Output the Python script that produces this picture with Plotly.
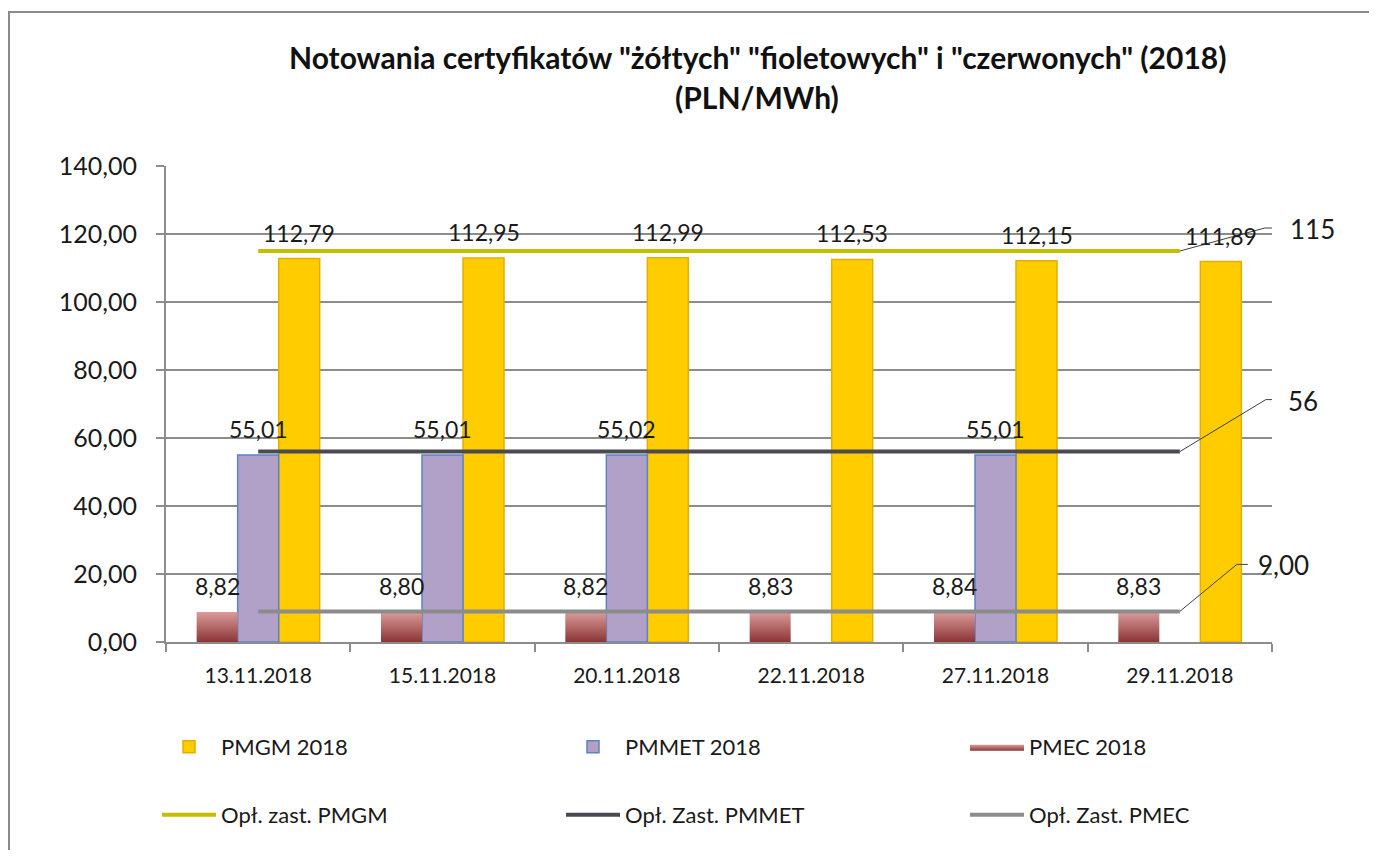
import plotly.graph_objects as go

dates = ["13.11.2018", "15.11.2018", "20.11.2018", "22.11.2018", "27.11.2018", "29.11.2018"]
pmgm = [112.79, 112.95, 112.99, 112.53, 112.15, 111.89]
pmmet = [55.01, 55.01, 55.02, None, 55.01, None]
pmec = [8.82, 8.80, 8.82, 8.83, 8.84, 8.83]
opl_pmgm = [115, 115, 115, 115, 115, 115]
opl_pmmet = [56, 56, 56, 56, 56, 56]
opl_pmec = [9.0, 9.0, 9.0, 9.0, 9.0, 9.0]
opl_labels = ["115", "56", "9,00"]

FONT = "Lato"
GRID = "#8c8c8c"
xs = list(range(len(dates)))
w = 0.2225  # bar width in category units

# plot area in page pixels: x 166..1272, y 166..642 (page has 8px body margin)
def px_x(p):
    return (p - 166) / 1106


def px_y(p):
    return (642 - p) / 476


fig = go.Figure()

fig.add_trace(go.Bar(
    name="PMGM 2018", x=xs, y=pmgm, width=w, offset=0.5 * w,
    marker=dict(color="#ffcc00", line=dict(color="#e2b000", width=1.5)),
    legend="legend",
))
fig.add_trace(go.Bar(
    name="PMMET 2018", x=xs, y=pmmet, width=w, offset=-0.5 * w,
    marker=dict(color="#b1a0c7", line=dict(color="#5b84c4", width=1.5)),
    legend="legend",
))

# red bars with vertical gradient, drawn as filled rectangles
xr, yr = [], []
for i, v in zip(xs, pmec):
    x0, x1 = i - 1.5 * w, i - 0.5 * w
    xr += [x0, x0, x1, x1, x0, None]
    yr += [0, v, v, 0, 0, None]
fig.add_trace(go.Scatter(
    name="PMEC 2018", x=xr, y=yr, mode="lines", fill="toself",
    line=dict(width=0, color="#b05a5a"),
    fillgradient=dict(type="vertical",
                      colorscale=[[0, "#8a3535"], [1, "#dc9c9a"]]),
    legend="legend", hoverinfo="skip",
))

line_series = [
    ("Opł. zast. PMGM", opl_pmgm, "#c4bd00"),
    ("Opł. Zast. PMMET", opl_pmmet, "#4b4a53"),
    ("Opł. Zast. PMEC", opl_pmec, "#8c8c8c"),
]
for name, vals, color in line_series:
    fig.add_trace(go.Scatter(
        name=name, x=xs, y=vals, mode="lines",
        line=dict(color=color, width=4), legend="legend2",
    ))

annotations = []
# data labels above bars
for offs, series in ((-w, pmec), (0, pmmet), (w, pmgm)):
    for i, v in zip(xs, series):
        if v is None:
            continue
        annotations.append(dict(
            x=i + offs, y=v, xref="x", yref="y", yshift=26, showarrow=False,
            text=f"{v:.2f}".replace(".", ","),
            font=dict(family=FONT, size=23, color="#1a1a1a"),
        ))

# labels of the fee lines with leader lines
shifts = [((85, 23), (98, 23), 108, 22),
          ((86, 52), (98, 52), 106, 51),
          ((57, 47), (68, 47), 76, 46)]
shapes = []
for (name, vals, color), label, (p1, p2, tx, ty) in zip(line_series, opl_labels, shifts):
    shapes.append(dict(
        type="path", xref="x", yref="y", xsizemode="pixel", ysizemode="pixel",
        xanchor=xs[-1], yanchor=vals[-1],
        path=f"M0,0L{p1[0]},{p1[1]}L{p2[0]},{p2[1]}",
        line=dict(color="#404040", width=1),
    ))
    annotations.append(dict(
        x=xs[-1], y=vals[-1], xref="x", yref="y", xanchor="left",
        xshift=tx, yshift=ty, showarrow=False, text=label,
        font=dict(family=FONT, size=26, color="#1a1a1a"),
    ))

# title
annotations.append(dict(
    x=px_x(757), y=px_y(57), xref="paper", yref="paper", yanchor="middle",
    text='<b>Notowania certyfikatów "żółtych" "fioletowych" i "czerwonych" (2018)</b>',
    showarrow=False, font=dict(family=FONT, size=30, color="#111"),
))
annotations.append(dict(
    x=px_x(757), y=px_y(97), xref="paper", yref="paper", yanchor="middle",
    text="<b>(PLN/MWh)</b>",
    showarrow=False, font=dict(family=FONT, size=30, color="#111"),
))

# outer chart border
shapes.append(dict(
    type="rect", xref="paper", yref="paper",
    x0=px_x(9), x1=px_x(1420), y0=px_y(900), y1=px_y(12),
    line=dict(color="#8a8a8a", width=2), layer="below",
))

# negative x keeps the legend allowed to span the left margin too
legend_style = dict(
    orientation="h", x=-4 / 1106, xanchor="left", yanchor="middle",
    entrywidth=335, entrywidthmode="pixels", itemwidth=54,
    font=dict(family=FONT, size=22, color="#1a1a1a"),
    bgcolor="rgba(0,0,0,0)",
)

fig.update_layout(
    width=1361, height=842,
    margin=dict(l=158, r=97, t=158, b=208),
    paper_bgcolor="white", plot_bgcolor="white",
    separators=", ",
    barmode="overlay",
    showlegend=True,
    font=dict(family=FONT, color="#1a1a1a"),
    annotations=annotations,
    shapes=shapes,
    legend=dict(legend_style, y=px_y(747)),
    legend2=dict(legend_style, y=px_y(815)),
)

fig.update_xaxes(
    range=[-0.5, len(dates) - 0.5],
    tickmode="array", tickvals=xs, ticktext=dates,
    ticks="", showgrid=False, zeroline=False,
    showline=True, linecolor=GRID, linewidth=2,
    tickfont=dict(family=FONT, size=21, color="#1a1a1a"),
    ticklabelstandoff=14,
    minor=dict(tickmode="array", tickvals=[i - 0.5 for i in range(len(dates) + 1)],
               ticks="outside", ticklen=8, tickcolor=GRID, tickwidth=2, showgrid=False),
)
fig.update_yaxes(
    range=[0, 140], dtick=20, tickformat=".2f",
    showgrid=True, gridcolor=GRID, gridwidth=2, zeroline=False,
    showline=True, linecolor=GRID, linewidth=2,
    ticks="outside", ticklen=8, tickcolor=GRID, tickwidth=2,
    tickfont=dict(family=FONT, size=25, color="#1a1a1a"),
    ticklabelstandoff=14,
)

fig.write_html("out.html")
